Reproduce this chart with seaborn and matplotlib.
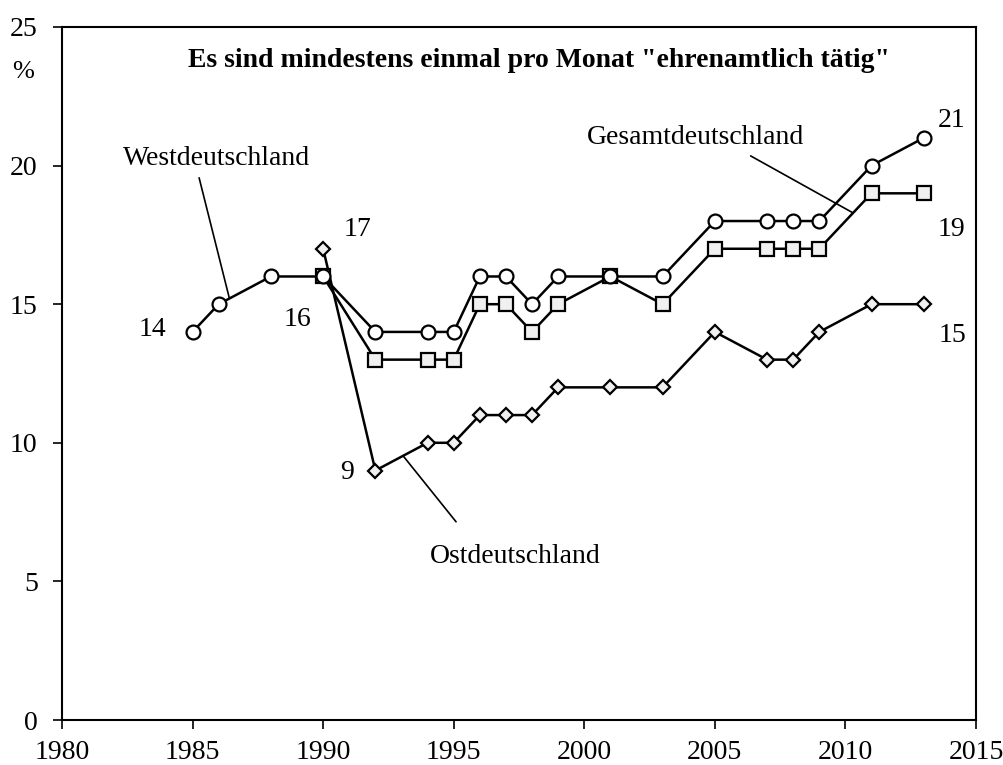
import numpy as np
import pandas as pd
import seaborn as sns
import matplotlib.pyplot as plt

# data
west_years = [1985, 1986, 1988, 1990, 1992, 1994, 1995, 1996, 1997, 1998, 1999,
              2001, 2003, 2005, 2007, 2008, 2009, 2011, 2013]
west_vals = [14, 15, 16, 16, 14, 14, 14, 16, 16, 15, 16, 16, 16, 18, 18, 18, 18, 20, 21]

ges_years = [1990, 1992, 1994, 1995, 1996, 1997, 1998, 1999, 2001, 2003, 2005,
             2007, 2008, 2009, 2011, 2013]
ges_vals = [16, 13, 13, 13, 15, 15, 14, 15, 16, 15, 17, 17, 17, 17, 19, 19]

ost_years = [1990, 1992, 1994, 1995, 1996, 1997, 1998, 1999, 2001, 2003, 2005,
             2007, 2008, 2009, 2011, 2013]
ost_vals = [17, 9, 10, 10, 11, 11, 11, 12, 12, 12, 14, 13, 13, 14, 15, 15]

title = 'Es sind mindestens einmal pro Monat "ehrenamtlich tätig"'

df = pd.concat([
    pd.DataFrame({'Jahr': west_years, 'Wert': west_vals, 'Region': 'West'}),
    pd.DataFrame({'Jahr': ges_years, 'Wert': ges_vals, 'Region': 'Gesamt'}),
    pd.DataFrame({'Jahr': ost_years, 'Wert': ost_vals, 'Region': 'Ost'}),
])

sns.set_theme(style='ticks')
plt.rcParams['font.family'] = ['Liberation Serif', 'DejaVu Serif']
plt.rcParams['text.color'] = 'black'

fig = plt.figure(figsize=(10.04, 7.65), dpi=100)
ax = fig.add_axes([62 / 1004, 1 - 720 / 765, 914 / 1004, 693 / 765])

styles = {
    'West': dict(marker='o', markersize=10, markerfacecolor='white'),
    'Gesamt': dict(marker='s', markersize=10, markerfacecolor='#f0f0f0'),
    'Ost': dict(marker='D', markersize=7, markerfacecolor='#f0f0f0'),
}
for region in ['Ost', 'Gesamt', 'West']:
    sub = df[df['Region'] == region]
    sns.lineplot(data=sub, x='Jahr', y='Wert', ax=ax, color='black', linewidth=1.8,
                 markeredgecolor='black', markeredgewidth=1.6, **styles[region])

ax.set_xlim(1980, 2015)
ax.set_ylim(0, 25)
ax.set_xticks(range(1980, 2016, 5))
ax.set_yticks(range(0, 26, 5))
ax.set_xlabel('')
ax.set_ylabel('')
for s in ax.spines.values():
    s.set_color('black')
    s.set_linewidth(1.5)
ax.tick_params(labelsize=20, direction='out', length=6.5, width=1.2, colors='black')
ax.tick_params(axis='x', pad=8)
ax.tick_params(axis='y', pad=11)

ax.text(1998.28, 23.56, title, fontsize=20, fontweight='bold', ha='center', va='baseline')
fig.text(23 / 1004, 1 - 78 / 765, '%', fontsize=19, ha='center', va='baseline')

# value labels
fs = 20
for x, y, s in [(1983.45, 13.85, '14'), (1989.0, 14.21, '16'), (1991.33, 17.46, '17'),
                (1990.93, 8.69, '9'), (2014.08, 21.38, '21'), (2014.08, 17.46, '19'),
                (2014.1, 13.65, '15')]:
    ax.text(x, y, s, fontsize=fs, ha='center', va='baseline')

# series labels with leader lines
ax.text(1985.92, 20.02, 'Westdeutschland', fontsize=fs, ha='center', va='baseline')
ax.plot([1985.25, 1986.41], [19.56, 15.21], color='black', linewidth=1.2)
ax.text(2004.24, 20.77, 'Gesamtdeutschland', fontsize=fs, ha='center', va='baseline')
ax.plot([2006.37, 2010.28], [20.35, 18.30], color='black', linewidth=1.2)
ax.text(1997.35, 5.65, 'Ostdeutschland', fontsize=fs, ha='center', va='baseline')
ax.plot([1993.07, 1995.09], [9.52, 7.15], color='black', linewidth=1.2)

fig.savefig('out.png', dpi=100)
